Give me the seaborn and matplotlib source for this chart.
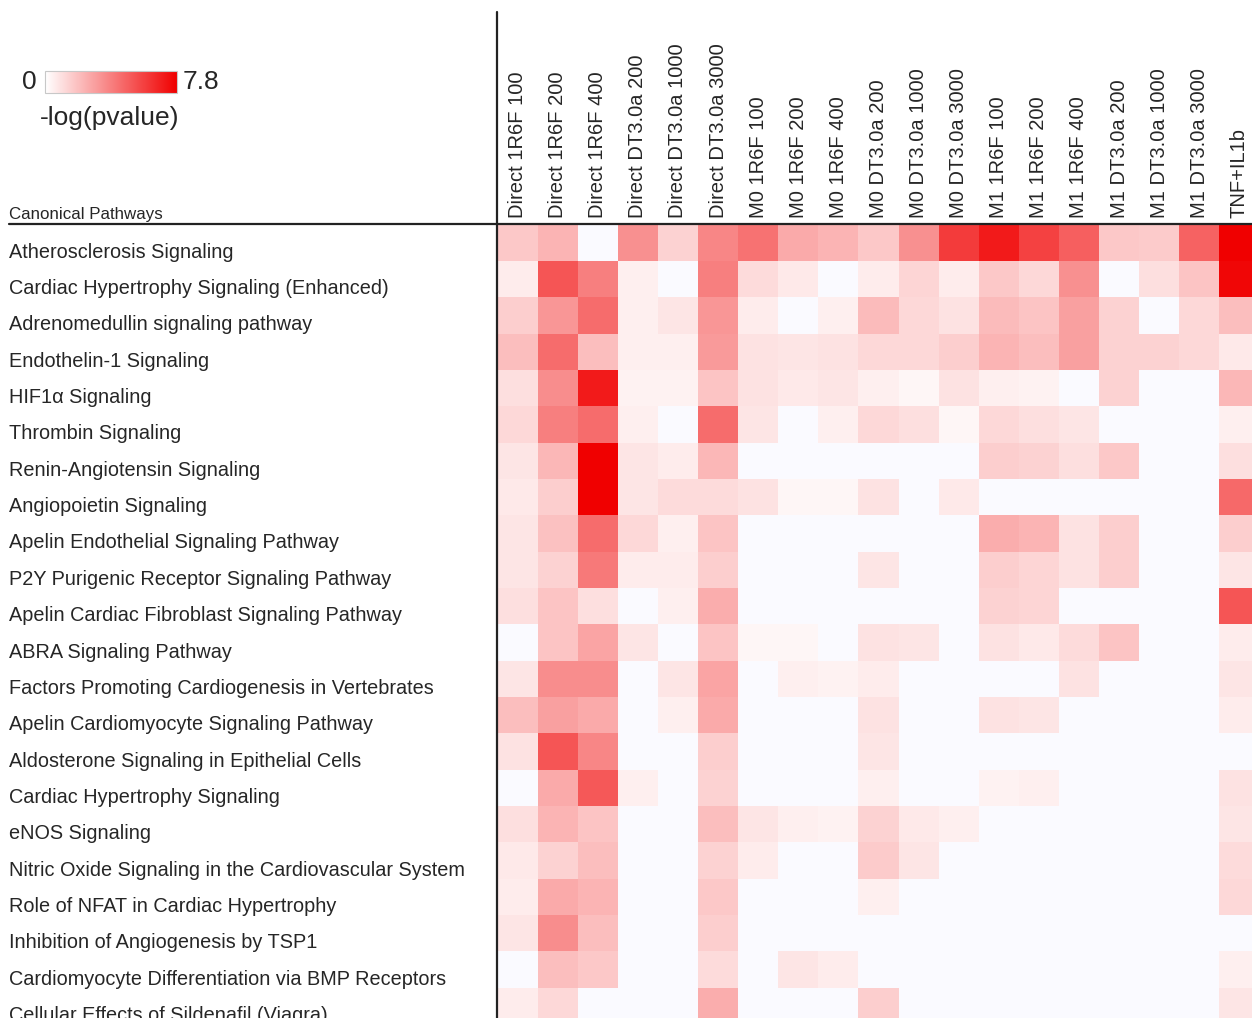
import numpy as np
import pandas as pd
import matplotlib
matplotlib.use("Agg")
import matplotlib.pyplot as plt
import seaborn as sns
from matplotlib.colors import LinearSegmentedColormap
from matplotlib.lines import Line2D
from matplotlib.transforms import ScaledTranslation

nan = np.nan

conditions = [
    "Direct 1R6F 100", "Direct 1R6F 200", "Direct 1R6F 400",
    "Direct DT3.0a 200", "Direct DT3.0a 1000", "Direct DT3.0a 3000",
    "M0 1R6F 100", "M0 1R6F 200", "M0 1R6F 400",
    "M0 DT3.0a 200", "M0 DT3.0a 1000", "M0 DT3.0a 3000",
    "M1 1R6F 100", "M1 1R6F 200", "M1 1R6F 400",
    "M1 DT3.0a 200", "M1 DT3.0a 1000", "M1 DT3.0a 3000",
    "TNF+IL1b",
]

pathways = [
    "Atherosclerosis Signaling",
    "Cardiac Hypertrophy Signaling (Enhanced)",
    "Adrenomedullin signaling pathway",
    "Endothelin-1 Signaling",
    "HIF1\u03b1 Signaling",
    "Thrombin Signaling",
    "Renin-Angiotensin Signaling",
    "Angiopoietin Signaling",
    "Apelin Endothelial Signaling Pathway",
    "P2Y Purigenic Receptor Signaling Pathway",
    "Apelin Cardiac Fibroblast Signaling Pathway",
    "ABRA Signaling Pathway",
    "Factors Promoting Cardiogenesis in Vertebrates",
    "Apelin Cardiomyocyte Signaling Pathway",
    "Aldosterone Signaling in Epithelial Cells",
    "Cardiac Hypertrophy Signaling",
    "eNOS Signaling",
    "Nitric Oxide Signaling in the Cardiovascular System",
    "Role of NFAT in Cardiac Hypertrophy",
    "Inhibition of Angiogenesis by TSP1",
    "Cardiomyocyte Differentiation via BMP Receptors",
    "Cellular Effects of Sildenafil (Viagra)",
]

# -log(pvalue) per pathway, one value per condition (NaN = not enriched)
atherosclerosis   = [1.7, 2.3, nan, 3.4, 1.4, 3.7, 4.3, 2.6, 2.3, 1.7, 3.4, 6.0, 7.0, 5.8, 4.9, 1.7, 1.6, 4.8, 7.8]
cardiac_hyp_enh   = [0.6, 5.2, 3.9, 0.5, nan, 3.9, 1.1, 0.7, nan, 0.6, 1.3, 0.6, 1.7, 1.2, 3.4, nan, 1.0, 1.8, 7.6]
adrenomedullin    = [1.5, 3.2, 4.5, 0.5, 0.8, 3.2, 0.6, nan, 0.5, 2.1, 1.2, 0.9, 2.1, 1.8, 2.9, 1.4, nan, 1.2, 2.0]
endothelin1       = [2.0, 4.5, 2.0, 0.5, 0.5, 3.1, 0.9, 0.8, 0.9, 1.2, 1.2, 1.5, 2.3, 2.0, 2.9, 1.4, 1.4, 1.2, 0.7]
hif1a             = [1.0, 3.5, 7.0, 0.4, 0.4, 1.8, 0.9, 0.7, 0.8, 0.5, 0.3, 0.9, 0.5, 0.4, nan, 1.4, nan, nan, 2.2]
thrombin          = [1.2, 3.9, 4.5, 0.5, nan, 4.5, 0.8, nan, 0.5, 1.2, 1.0, 0.3, 1.2, 1.0, 0.8, nan, nan, nan, 0.5]
renin_angiotensin = [0.8, 2.2, 7.8, 0.8, 0.6, 2.2, nan, nan, nan, nan, nan, nan, 1.5, 1.4, 1.0, 1.7, nan, nan, 1.0]
angiopoietin      = [0.7, 1.5, 7.8, 0.8, 1.1, 1.1, 0.9, 0.3, 0.3, 0.9, nan, 0.7, nan, nan, nan, nan, nan, nan, 4.6]
apelin_endothel   = [0.8, 1.9, 4.5, 1.2, 0.5, 1.8, nan, nan, nan, nan, nan, nan, 2.5, 2.3, 0.9, 1.5, nan, nan, 1.5]
p2y_purigenic     = [0.8, 1.4, 4.1, 0.6, 0.6, 1.5, nan, nan, nan, 0.8, nan, nan, 1.5, 1.3, 0.9, 1.5, nan, nan, 0.8]
apelin_fibroblast = [1.0, 1.8, 1.0, nan, 0.5, 2.5, nan, nan, nan, nan, nan, nan, 1.4, 1.3, nan, nan, nan, nan, 5.2]
abra              = [nan, 1.8, 2.8, 0.8, nan, 1.8, 0.3, 0.3, nan, 0.9, 0.8, nan, 0.9, 0.7, 1.1, 1.8, nan, nan, 0.6]
cardiogenesis     = [0.8, 3.5, 3.5, nan, 0.8, 2.8, nan, 0.5, 0.4, 0.6, nan, nan, nan, nan, 0.9, nan, nan, nan, 0.8]
apelin_cardiomyo  = [2.0, 2.9, 2.6, nan, 0.5, 2.6, nan, nan, nan, 0.9, nan, nan, 0.9, 0.8, nan, nan, nan, nan, 0.6]
aldosterone       = [0.9, 5.2, 3.7, nan, nan, 1.5, nan, nan, nan, 0.8, nan, nan, nan, nan, nan, nan, nan, nan, nan]
cardiac_hyp       = [nan, 2.6, 5.1, 0.5, nan, 1.4, nan, nan, nan, 0.5, nan, nan, 0.4, 0.5, nan, nan, nan, nan, 0.9]
enos              = [1.0, 2.3, 1.8, nan, nan, 2.0, 0.8, 0.5, 0.4, 1.4, 0.7, 0.5, nan, nan, nan, nan, nan, nan, 0.8]
nitric_oxide      = [0.7, 1.4, 2.0, nan, nan, 1.4, 0.6, nan, nan, 1.6, 0.8, nan, nan, nan, nan, nan, nan, nan, 1.1]
nfat              = [0.6, 2.6, 2.3, nan, nan, 1.7, nan, nan, nan, 0.5, nan, nan, nan, nan, nan, nan, nan, nan, 1.2]
tsp1              = [0.8, 3.5, 2.0, nan, nan, 1.5, nan, nan, nan, nan, nan, nan, nan, nan, nan, nan, nan, nan, nan]
bmp_receptors     = [nan, 2.0, 1.7, nan, nan, 1.1, nan, 0.8, 0.6, nan, nan, nan, nan, nan, nan, nan, nan, nan, 0.5]
sildenafil        = [0.6, 1.2, nan, nan, nan, 2.5, nan, nan, nan, 1.5, nan, nan, nan, nan, nan, nan, nan, nan, 0.8]

vmin, vmax = 0, 7.8

rows = [atherosclerosis, cardiac_hyp_enh, adrenomedullin, endothelin1, hif1a,
        thrombin, renin_angiotensin, angiopoietin, apelin_endothel, p2y_purigenic,
        apelin_fibroblast, abra, cardiogenesis, apelin_cardiomyo, aldosterone,
        cardiac_hyp, enos, nitric_oxide, nfat, tsp1, bmp_receptors, sildenafil]
df = pd.DataFrame(rows, index=pathways, columns=conditions)

sns.set_style("white")
plt.rcParams["font.family"] = ["Liberation Sans", "DejaVu Sans"]

W, H = 1252, 1018
fig = plt.figure(figsize=(W / 100, H / 100), dpi=100)
fig.patch.set_facecolor("white")


def fx(px):
    return px / W


def fy(py):
    return 1 - py / H


cell_w, cell_h = 40.1, 36.35
top_px, left_px = 224.5, 497.5
ax = fig.add_axes([fx(left_px), fy(top_px + len(pathways) * cell_h),
                   len(conditions) * cell_w / W, len(pathways) * cell_h / H])

cmap = LinearSegmentedColormap.from_list("white_red", ["#FFFFFF", "#F00000"])
sns.heatmap(df, ax=ax, cmap=cmap, vmin=vmin, vmax=vmax, cbar=False,
            linewidths=0, xticklabels=True, yticklabels=True)
ax.set_facecolor("#FAFAFF")
ax.set_xlabel("")
ax.set_ylabel("")
for s in ax.spines.values():
    s.set_visible(False)

# condition labels along the top
ax.xaxis.tick_top()
ax.tick_params(axis="x", length=0, pad=5, labelsize=14.5, top=True, bottom=False,
               labeltop=True, labelbottom=False)
plt.setp(ax.get_xticklabels(), rotation=90, ha="center", va="bottom")

# pathway labels, left-aligned at the figure margin
ax.tick_params(axis="y", length=0, pad=(left_px - 9) * 72 / 100, labelsize=14.3)
plt.setp(ax.get_yticklabels(), rotation=0, ha="left", va="baseline")
shift = ScaledTranslation(0, -15 / 100, fig.dpi_scale_trans)
for lab in ax.get_yticklabels():
    lab.set_transform(lab.get_transform() + shift)

# frame lines
fig.add_artist(Line2D([fx(9), 1.0], [fy(224), fy(224)], color="#222222", lw=1.6))
fig.add_artist(Line2D([fx(497), fx(497)], [fy(12), 0.0], color="#222222", lw=1.6))

fig.text(fx(9), fy(219), "Canonical Pathways", fontsize=12.2, va="baseline", ha="left")

# color scale
cax = fig.add_axes([fx(45), fy(93), 132 / W, 22 / H])
cb = fig.colorbar(ax.collections[0], cax=cax, orientation="horizontal")
cb.set_ticks([])
cb.outline.set_edgecolor("#c8c8c8")
cb.outline.set_linewidth(0.8)
fig.text(fx(29), fy(82), f"{vmin:g}", ha="center", va="center", fontsize=19)
fig.text(fx(183), fy(82), f"{vmax:g}", ha="left", va="center", fontsize=19)
fig.text(fx(40), fy(118), "-log(pvalue)", ha="left", va="center", fontsize=19)

fig.savefig("out.png", dpi=100)
